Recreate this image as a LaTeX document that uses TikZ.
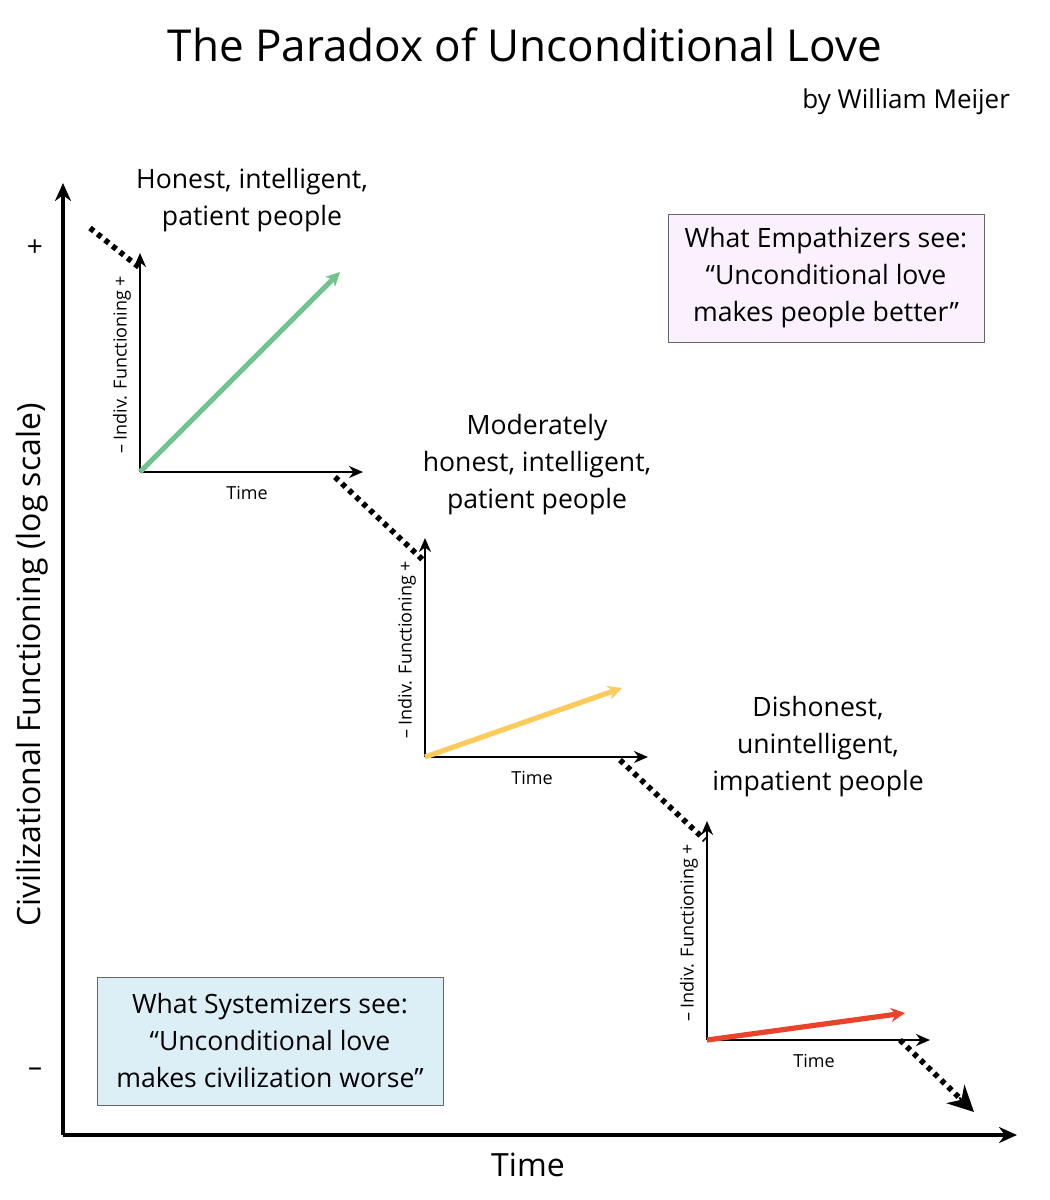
\documentclass[tikz,border=0pt]{standalone}
\usepackage{fontspec}
\setmainfont{Open Sans}
\usetikzlibrary{arrows.meta,calc}
\definecolor{lovegreen}{HTML}{72C38E}
\definecolor{loveyellow}{HTML}{FBCB5C}
\definecolor{lovered}{HTML}{E8442B}
\definecolor{empbox}{HTML}{FBF0FD}
\definecolor{sysbox}{HTML}{DDEFF6}
\tikzset{
  axis/.style={line width=1.6pt,-{Stealth[length=9pt,width=8pt]}},
  minor/.style={line width=1.1pt,-{Stealth[length=7pt,width=6pt]}},
  trend/.style={line width=2.6pt,-{Stealth[length=7pt,width=7pt]}},
  stair/.style={line width=2.8pt,dash pattern=on 2.4pt off 2.4pt},
  caption/.style={align=center,font=\fontsize{13.3}{18.5}\selectfont},
  note/.style={draw=black!60,line width=0.4pt,align=center,inner sep=6pt,font=\fontsize{13.3}{18.5}\selectfont},
  small/.style={font=\fontsize{9}{11}\selectfont}
}
\begin{document}
\begin{tikzpicture}[x=0.5pt,y=-0.5pt]
  \useasboundingbox (0,0) rectangle (1050,1200);
  % title
  \node (title) at (525,45) {\fontsize{22}{26}\selectfont The Paradox of Unconditional Love};
  \node (author) [anchor=east] at (1017,102) {\fontsize{13}{16}\selectfont by William Meijer};
  % main axes
  \coordinate (o) at (63,1135);
  \coordinate (ytop) at (63,183);
  \coordinate (xend) at (1017,1135);
  \draw[axis] (o) -- (ytop);
  \draw[axis] (o) -- (xend);
  \node (plus) at (35,248) {\fontsize{14}{16}\selectfont +};
  \node (minus) at (35,1072) {\fontsize{14}{16}\selectfont –};
  \node (ylab) [rotate=90] at (32,665) {\fontsize{16}{20}\selectfont Civilizational Functioning (log scale)};
  \node (xlab) at (528,1165) {\fontsize{16}{20}\selectfont Time};
  % small charts
  \foreach \n/\ox/\oy/\ex/\ey/\col in {a/140/472/340/272/lovegreen, b/425/757/622/688/loveyellow, c/707/1040/905/1013/lovered}{
    \coordinate (o\n) at (\ox,\oy);
    \coordinate (y\n) at (\ox,\oy-219);
    \coordinate (x\n) at (\ox+223,\oy);
    \coordinate (e\n) at (\ex,\ey);
    \draw[minor] (o\n) -- (y\n);
    \draw[minor] (o\n) -- (x\n);
    \draw[trend,\col] (o\n) -- (e\n);
    \node (l\n) [small,rotate=90] at (\ox-18,\oy-107) {– Indiv. Functioning +};
    \node (t\n) [small] at (\ox+107,\oy+21) {Time};
  }
  \node (capa) [caption] at (252,200) {Honest, intelligent,\\patient people};
  \node (capb) [caption] at (537,465) {Moderately\\honest, intelligent,\\patient people};
  \node (capc) [caption] at (818,747) {Dishonest,\\unintelligent,\\impatient people};
  % staircase
  \coordinate (s0) at (90,228);
  \coordinate (s1) at (140,268);
  \coordinate (s2) at (335,477);
  \coordinate (s3) at (423,560);
  \coordinate (s4) at (620,760);
  \coordinate (s5) at (705,840);
  \coordinate (s6) at (900,1040);
  \coordinate (s7) at (974,1112);
  \coordinate (s7a) at ($(s7)!0.2!(s6)$);
  \draw[stair] (s0) -- (s1);
  \draw[stair] (s2) -- (s3);
  \draw[stair] (s4) -- (s5);
  \draw[stair] (s6) -- (s7a);
  \draw[line width=1pt,-{Stealth[length=13pt,width=13pt]}] (s7a) -- (s7);
  % boxes
  \node (emp) [note,fill=empbox,minimum width=158pt,minimum height=64pt] at (826,278) {What Empathizers see:\\“Unconditional love\\makes people better”};
  \node (sys) [note,fill=sysbox,minimum width=173pt,minimum height=64pt] at (270,1041) {What Systemizers see:\\“Unconditional love\\makes civilization worse”};
\end{tikzpicture}
\end{document}
